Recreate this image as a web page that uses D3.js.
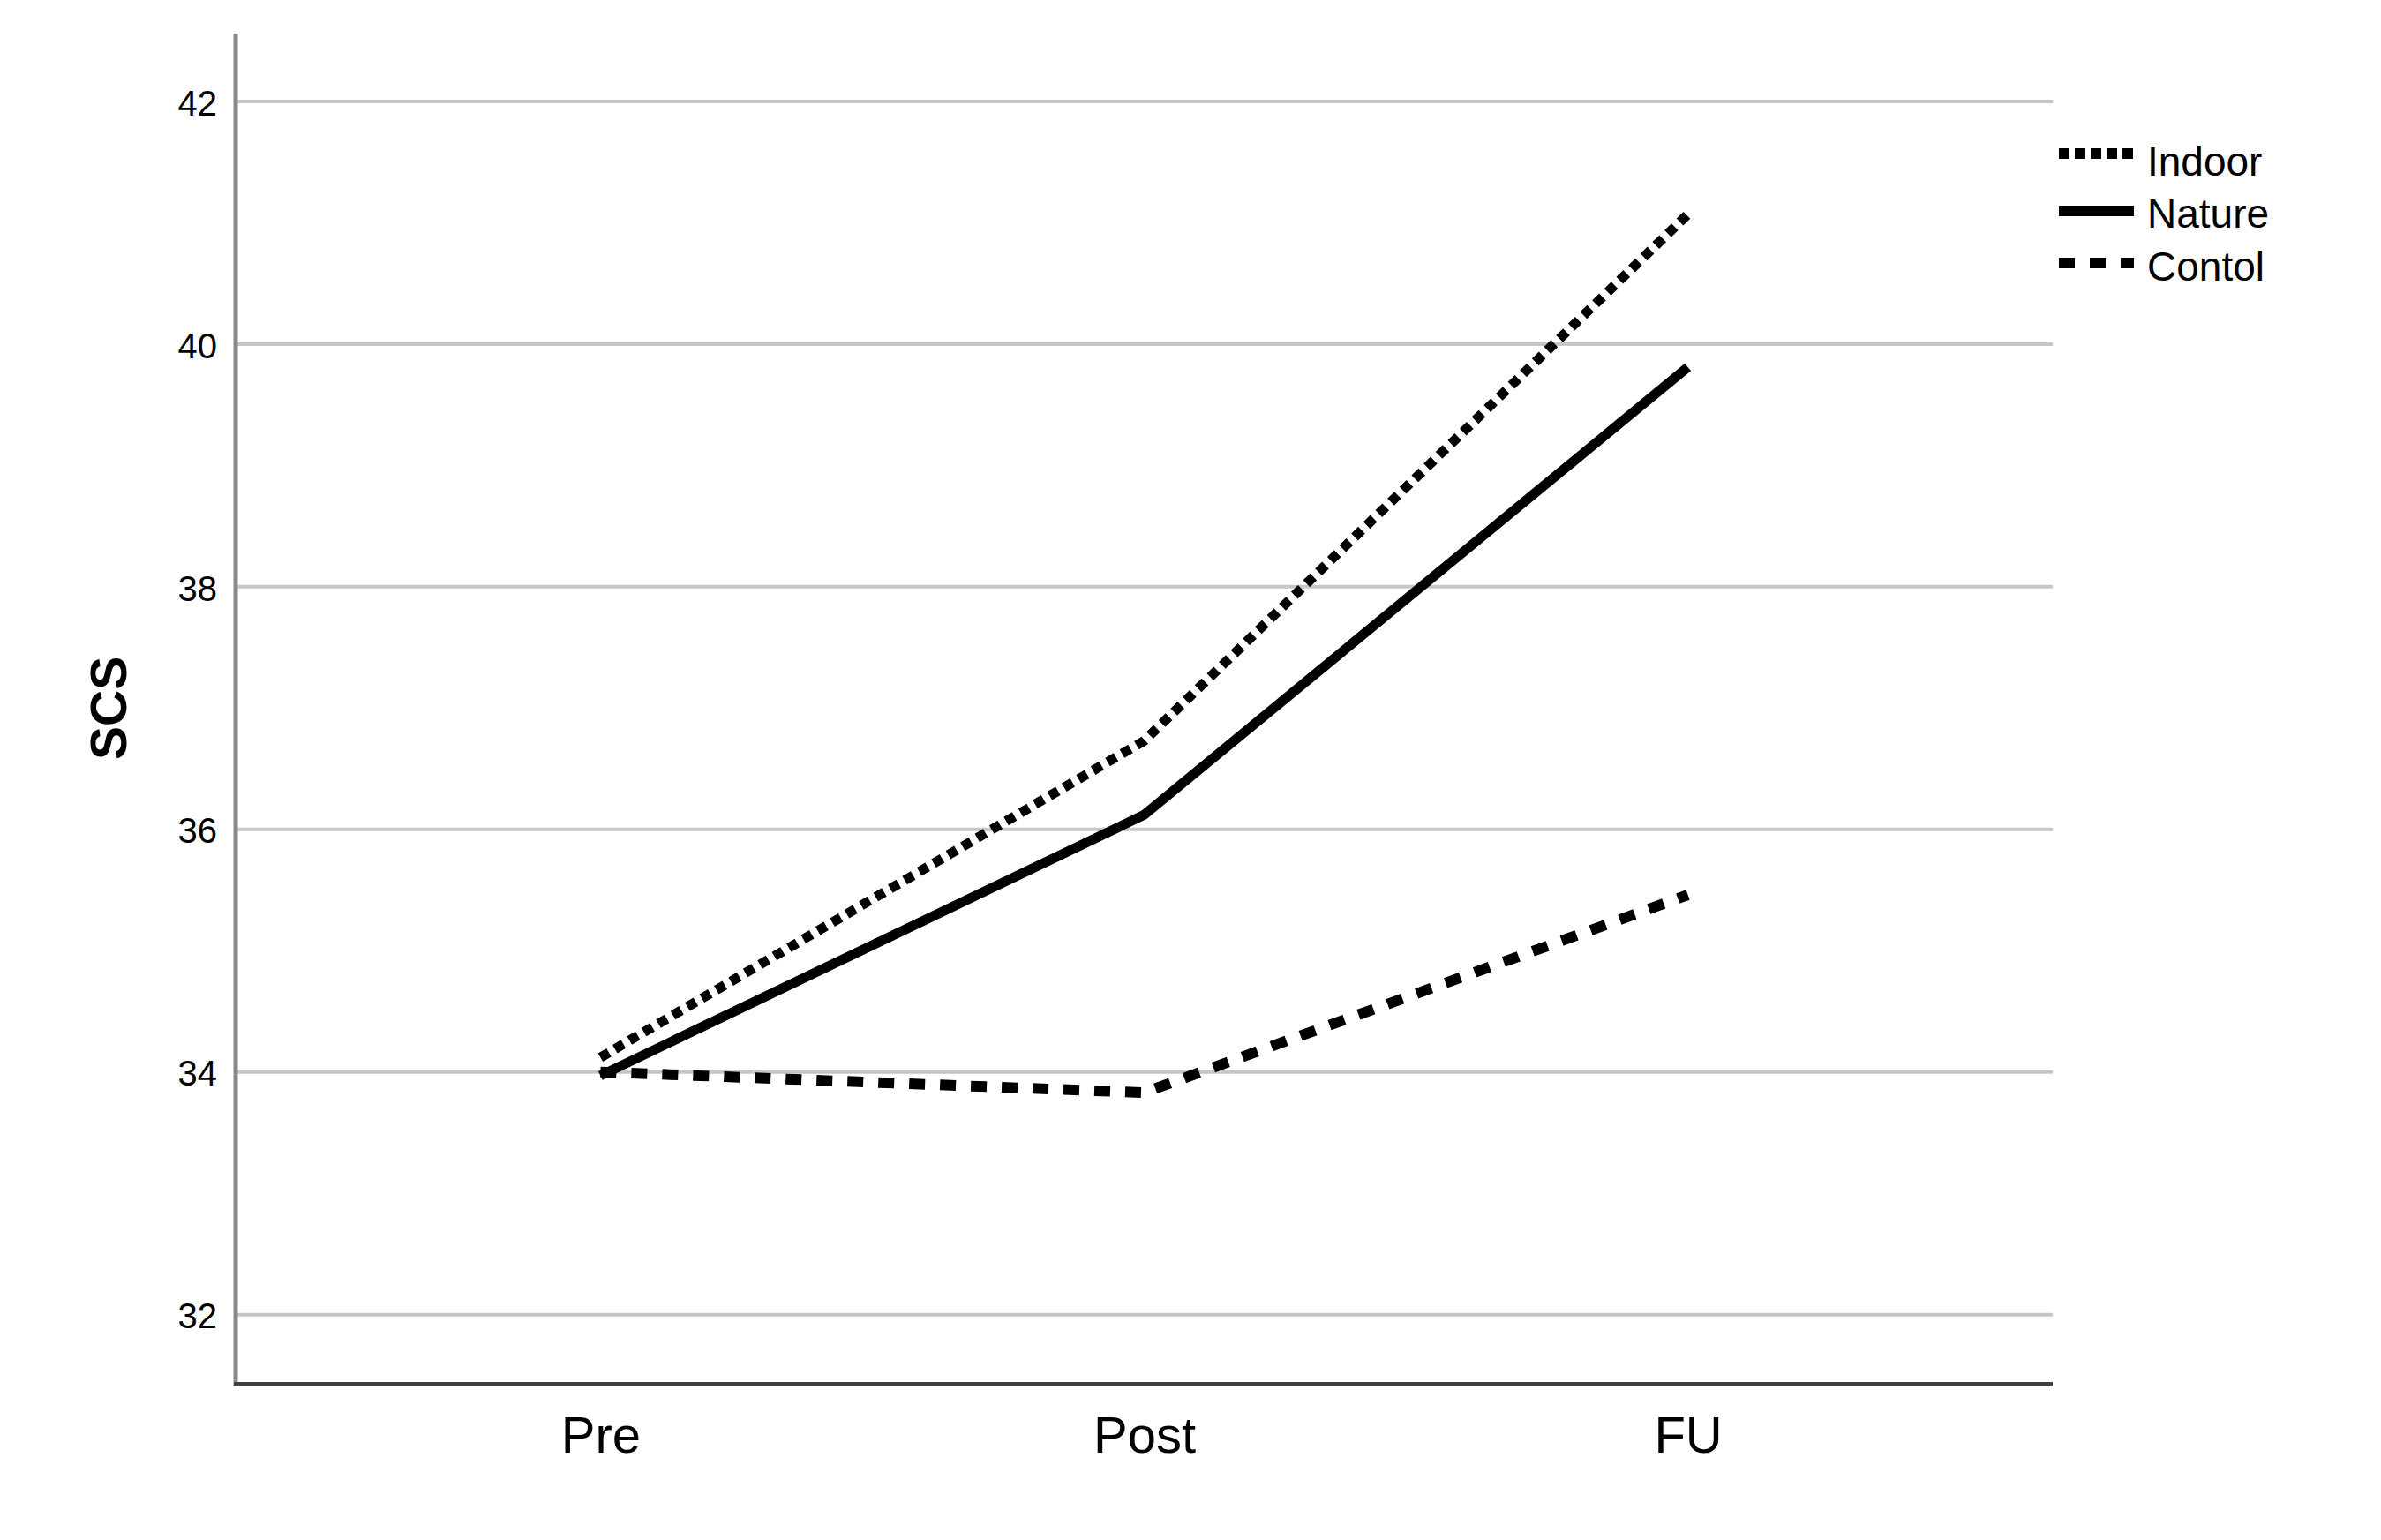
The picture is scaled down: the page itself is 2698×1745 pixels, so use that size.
<!DOCTYPE html>
<html>
<head>
<meta charset="utf-8">
<script src="https://cdn.jsdelivr.net/npm/d3@7"></script>
<style>
  html, body { margin: 0; padding: 0; background: #fff; }
  svg { display: block; }
  text { font-family: "Liberation Sans", Arial, sans-serif; fill: #000; }
</style>
</head>
<body>
<svg id="chart" width="2698" height="1745"></svg>
<script>
// ---- data ----
const categories = ["Pre", "Post", "FU"];
const indoor  = [34.12, 36.73, 41.07];
const nature  = [33.97, 36.12, 39.81];
const control = [34.00, 33.83, 35.46];
const seriesNames = ["Indoor", "Nature", "Contol"];
const yTicks = [32, 34, 36, 38, 40, 42];
const yTitle = "SCS";

(function () {
// ---- layout ----
const plotL = 267, plotR = 2326, plotT = 38, plotB = 1568;

const svg = d3.select("#chart");

const x = d3.scalePoint().domain(categories).range([plotL, plotR]).padding(0.671);
const y = d3.scaleLinear().domain([31.43, 42.56]).range([plotB, plotT]);

// gridlines
svg.append("g").selectAll("line").data(yTicks).join("line")
  .attr("x1", plotL).attr("x2", plotR)
  .attr("y1", d => y(d)).attr("y2", d => y(d))
  .attr("stroke", "#c6c6c6").attr("stroke-width", 4);

// y axis (labels)
const yAxis = svg.append("g").attr("transform", `translate(${plotL},0)`)
  .call(d3.axisLeft(y).tickValues(yTicks).tickSize(0).tickPadding(21).tickFormat(d3.format("d")));
yAxis.select(".domain").remove();
yAxis.selectAll("text").attr("font-size", 40).attr("dy", "0.38em")
  .style("font-family", "'Liberation Sans', Arial, sans-serif").attr("fill", "#000");

// y axis line
svg.append("line").attr("x1", plotL).attr("x2", plotL).attr("y1", plotT).attr("y2", plotB + 2)
  .attr("stroke", "#8a8a8a").attr("stroke-width", 5);

// x axis line
svg.append("line").attr("x1", plotL - 2).attr("x2", plotR).attr("y1", plotB).attr("y2", plotB)
  .attr("stroke", "#404040").attr("stroke-width", 4);

// x axis labels
const xAxis = svg.append("g").attr("transform", `translate(0,${plotB})`)
  .call(d3.axisBottom(x).tickSize(0).tickPadding(0));
xAxis.select(".domain").remove();
xAxis.selectAll("text").attr("font-size", 58).attr("y", 78).attr("dy", 0)
  .style("font-family", "'Liberation Sans', Arial, sans-serif").attr("fill", "#000");

// y title
svg.append("text")
  .attr("transform", `translate(143,${(y(36) + y(38)) / 2})  rotate(-90)`)
  .attr("text-anchor", "middle")
  .attr("font-size", 57).attr("font-weight", "bold")
  .text(yTitle);

// lines
const styles = [
  { data: indoor,  dash: "11 8",  width: 11 },
  { data: nature,  dash: null,    width: 11 },
  { data: control, dash: "18 17", width: 12 }
];
const line = d3.line().x((d, i) => x(categories[i])).y(d => y(d));

svg.append("g").selectAll("path").data(styles).join("path")
  .attr("d", d => line(d.data))
  .attr("fill", "none")
  .attr("stroke", "#000")
  .attr("stroke-width", d => d.width)
  .attr("stroke-linejoin", "round")
  .attr("stroke-dasharray", d => d.dash);

// legend
const legendStyles = [
  { dash: "12 6",  width: 12 },
  { dash: null,    width: 12 },
  { dash: "18 17", width: 12 }
];
const lg = svg.append("g");
const legY = [174, 239, 298];
const legTextY = [199, 258, 318];
seriesNames.forEach((name, i) => {
  lg.append("line")
    .attr("x1", 2333).attr("x2", 2418)
    .attr("y1", legY[i]).attr("y2", legY[i])
    .attr("stroke", "#000").attr("stroke-width", legendStyles[i].width)
    .attr("stroke-dasharray", legendStyles[i].dash);
  lg.append("text")
    .attr("x", 2433).attr("y", legTextY[i])
    .attr("font-size", 46)
    .text(name);
});
})();
</script>
</body>
</html>
